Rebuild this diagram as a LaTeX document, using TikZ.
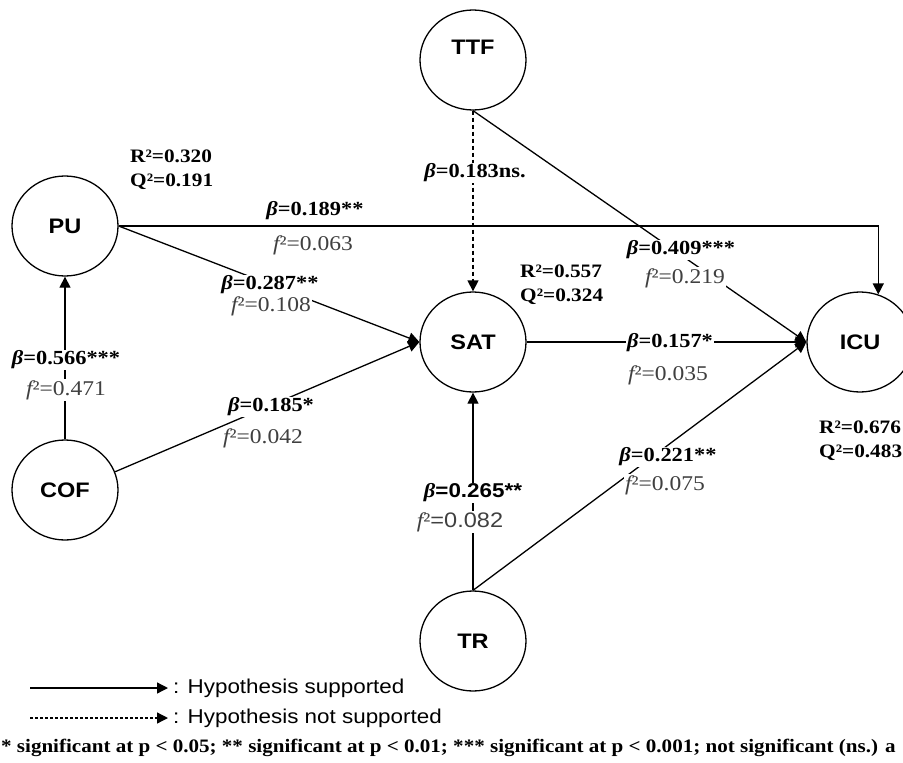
\documentclass[tikz,border=0pt]{standalone}
\usepackage{fontspec}
\setmainfont{Liberation Serif}[FakeStretch=1.12]
\setsansfont{Liberation Sans}[FakeStretch=1.12]
\newfontfamily\notefont{Liberation Serif}[FakeStretch=1.108]
\usetikzlibrary{arrows.meta,shapes.geometric,calc}
\newcommand{\bt}{{\itshape β}}
\newcommand{\fsq}{{\itshape f}²}
\begin{document}
\begin{tikzpicture}[x=1pt,y=-1pt,
  var/.style={draw, ellipse, line width=1.3pt, minimum width=106pt, minimum height=100pt, inner sep=0pt,
    font=\sffamily\bfseries\fontsize{21}{21}\selectfont},
  vlab/.style={inner sep=0pt, font=\sffamily\bfseries\fontsize{21}{21}\selectfont},
  arr/.style={line width=1.3pt, -{Triangle[length=11pt,width=11pt]}},
  darr/.style={arr, dash pattern=on 4pt off 3pt},
  betal/.style={fill=white, inner sep=1pt, font=\bfseries\fontsize{20}{20}\selectfont},
  fl/.style={fill=white, inner sep=1pt, text=black!75, font=\fontsize{21}{21}\selectfont},
  rq/.style={anchor=west, inner sep=0pt, align=left, font=\bfseries\fontsize{19}{24}\selectfont},
  leg/.style={anchor=west, inner sep=0pt, font=\sffamily\fontsize{20}{20}\selectfont},
]
\useasboundingbox (0,0) rectangle (903,763);
\clip (0,0) rectangle (903,763);

% variables
\node[var] (ttf) at (473,60) {};
\node[vlab] (ttft) at (473,47) {TTF};
\node[var] (pu) at (65,226) {PU};
\node[var] (cof) at (65,490) {COF};
\node[var] (sat) at (473,342) {SAT};
\node[var] (icu) at (860,342) {ICU};
\node[var] (tr) at (473,641) {TR};

% connectors
\draw[arr] (cof.north) -- (pu.south);
\draw[arr] (pu.east) -- (sat.west);
\draw[arr] (cof.20) -- (sat.west);
\draw[arr] (pu.east) -| (icu.69);
\draw[darr] (ttf.south) -- (sat.north);
\draw[arr] (ttf.south) -- (icu.west);
\draw[arr] (sat.east) -- (icu.west);
\draw[arr] (tr.north) -- (sat.south);
\draw[arr] (tr.north) -- (icu.west);

% path labels
\node[betal] (b566) at (66,360) {\bt=0.566***};
\node[fl] (f471) at (66,390) {\fsq=0.471};
\node[betal] (b287) at (270,285) {\bt=0.287**};
\node[fl] (f108) at (271,306) {\fsq=0.108};
\node[betal] (b185) at (271,407) {\bt=0.185*};
\node[fl] (f042) at (263,438) {\fsq=0.042};
\node[betal] (b189) at (315,211) {\bt=0.189**};
\node[fl] (f063) at (313,245) {\fsq=0.063};
\node[betal] (b183) at (475,173) {\bt=0.183ns.};
\node[betal] (b409) at (681,250) {\bt=0.409***};
\node[fl] (f219) at (685,278) {\fsq=0.219};
\node[betal] (b157) at (670,343) {\bt=0.157*};
\node[fl] (f035) at (668,375) {\fsq=0.035};
\node[betal] (b265) at (473,493) {\bt\sffamily=0.265**};
\node[fl] (f082) at (460,522) {{\itshape f}²\sffamily=0.082};
\node[betal] (b221) at (668,457) {\bt=0.221**};
\node[fl] (f075) at (665,485) {\fsq=0.075};

% R2 / Q2
\node[rq] (rqpu) at (130,170) {R²=0.320\\Q²=0.191};
\node[rq] (rqsat) at (520,285) {R²=0.557\\Q²=0.324};
\node[rq] (rqicu) at (819,441) {R²=0.676\\Q²=0.483};

% legend
\coordinate (la1) at (30,688);
\coordinate (lb1) at (168,688);
\coordinate (la2) at (30,718);
\coordinate (lb2) at (168,718);
\draw[arr] (la1) -- (lb1);
\draw[arr, dash pattern=on 3pt off 2pt] (la2) -- (lb2);
\node[leg] (t1) at (173,688) {: Hypothesis supported};
\node[leg] (t2) at (173,718) {: Hypothesis not supported};
\node[anchor=west, inner sep=0pt, font=\notefont\bfseries\fontsize{19}{19}\selectfont] (note) at (1,748)
  {* significant at p < 0.05; ** significant at p < 0.01; *** significant at p < 0.001; not significant (ns.) a};
\end{tikzpicture}
\end{document}
